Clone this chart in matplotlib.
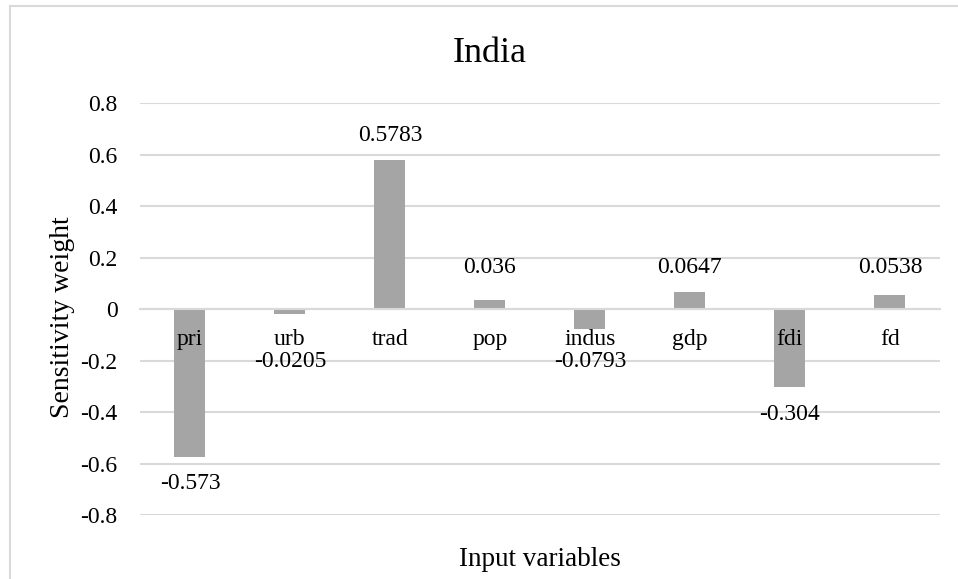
import matplotlib.pyplot as plt
from matplotlib.lines import Line2D

variables = ['pri', 'urb', 'trad', 'pop', 'indus', 'gdp', 'fdi', 'fd']
weights = [-0.573, -0.0205, 0.5783, 0.036, -0.0793, 0.0647, -0.304, 0.0538]
labels = ['-0.573', '-0.0205', '0.5783', '0.036', '-0.0793', '0.0647', '-0.304', '0.0538']
yticks = [-0.8, -0.6, -0.4, -0.2, 0, 0.2, 0.4, 0.6, 0.8]
ytick_labels = ['-0.8', '-0.6', '-0.4', '-0.2', '0', '0.2', '0.4', '0.6', '0.8']

plt.rcParams['font.family'] = ['Liberation Serif', 'DejaVu Serif']

fig = plt.figure(figsize=(9.58, 5.79), dpi=100)
ax = fig.add_axes([0.1461, 0.1105, 0.835, 0.7116])

grid_c = '#D9D9D9'
bar_c = '#A5A5A5'

# gridlines under the bars, axis labels over them
for y in yticks:
    ax.axhline(y, color=grid_c, linewidth=1.5, zorder=0.5)
ax.bar(range(len(variables)), weights, width=0.31, color=bar_c, zorder=1)
ax.set_axisbelow(False)
ax.set_xlim(-0.5, len(variables) - 0.5)
ax.set_ylim(-0.8, 0.8)

ax.set_yticks(yticks)
ax.set_yticklabels(ytick_labels, fontsize=17)
ax.tick_params(axis='y', length=0, pad=16)

# category labels sit right under the zero line
ax.spines['bottom'].set_position(('data', 0))
ax.spines['bottom'].set_color(grid_c)
ax.spines['bottom'].set_linewidth(1.5)
ax.set_xticks(range(len(variables)))
ax.set_xticklabels(variables, fontsize=17)
ax.tick_params(axis='x', length=0, pad=14.5)
for s in ['top', 'right', 'left']:
    ax.spines[s].set_visible(False)

# value labels outside the bar ends, kept clear of the category names
for i, (v, t) in enumerate(zip(weights, labels)):
    if v >= 0:
        yl = max(v + 0.097, 0.16)
    else:
        yl = min(v - 0.105, -0.202)
    ax.text(i, yl, t, ha='center', va='center', fontsize=17)

fig.text(0.5637, 0.023, 'Input variables', ha='center', va='baseline', fontsize=19.5)
fig.text(0.0655, 0.452, 'Sensitivity weight', ha='center', va='center',
         rotation=90, fontsize=20)
fig.text(0.511, 0.893, 'India', ha='center', va='baseline', fontsize=26)

# chart frame: top and left edges only
fig.add_artist(Line2D([0.0104, 1.0], [0.9896, 0.9896], color=grid_c, linewidth=1.5))
fig.add_artist(Line2D([0.0104, 0.0104], [0.0, 0.9896], color=grid_c, linewidth=1.5))

fig.savefig('out.png', dpi=100)
